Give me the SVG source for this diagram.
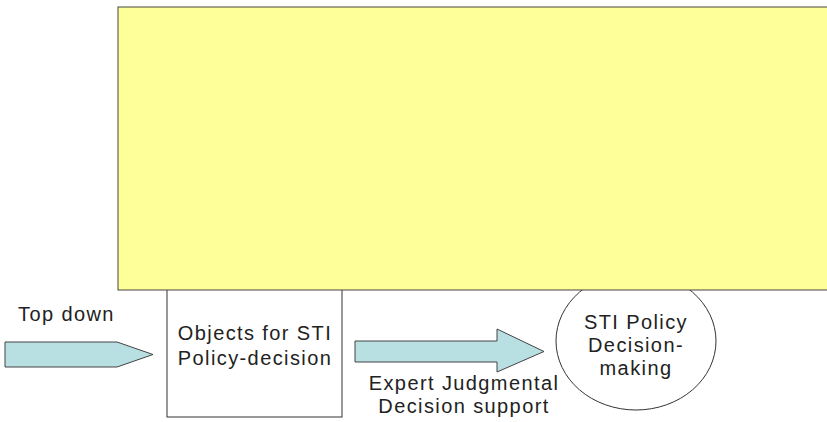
<svg xmlns="http://www.w3.org/2000/svg" width="827" height="422" viewBox="0 0 827 422">
  <style>
    .lbl { font-family: "Liberation Sans", Arial, sans-serif; font-size: 20px; fill: #222; letter-spacing: 1.4px; }
    .mid { text-anchor: middle; }
    .outline { fill: #fff; stroke: #333; stroke-width: 1; }
    .arrow { fill: #b8dfe1; stroke: #444; stroke-width: 1; }
  </style>

  <g id="decision-making">
    <ellipse class="outline" cx="636" cy="341" rx="80" ry="69"/>
    <text class="lbl mid" x="636" y="329">STI Policy</text>
    <text class="lbl mid" x="636" y="352">Decision-</text>
    <text class="lbl mid" x="636" y="375">making</text>
  </g>

  <g id="objects">
    <rect class="outline" x="167" y="280" width="175" height="137"/>
    <text class="lbl mid" x="255" y="340">Objects for STI</text>
    <text class="lbl mid" x="255" y="365">Policy-decision</text>
  </g>

  <g id="framework">
    <rect x="118" y="7" width="720" height="283" fill="#ffff99" stroke="#444" stroke-width="1"/>
  </g>

  <g id="connectors">
    <g id="top-down">
      <polygon class="arrow" points="5,342 117,342 153,354.5 117,367 5,367"/>
      <text class="lbl" x="18" y="321">Top down</text>
    </g>
    <g id="expert-support">
      <polygon class="arrow" points="355,341 497,341 497,329 544,351.5 497,372 497,362 355,362"/>
      <text class="lbl mid" x="464" y="390">Expert Judgmental</text>
      <text class="lbl mid" x="464" y="413">Decision support</text>
    </g>
  </g>
</svg>
